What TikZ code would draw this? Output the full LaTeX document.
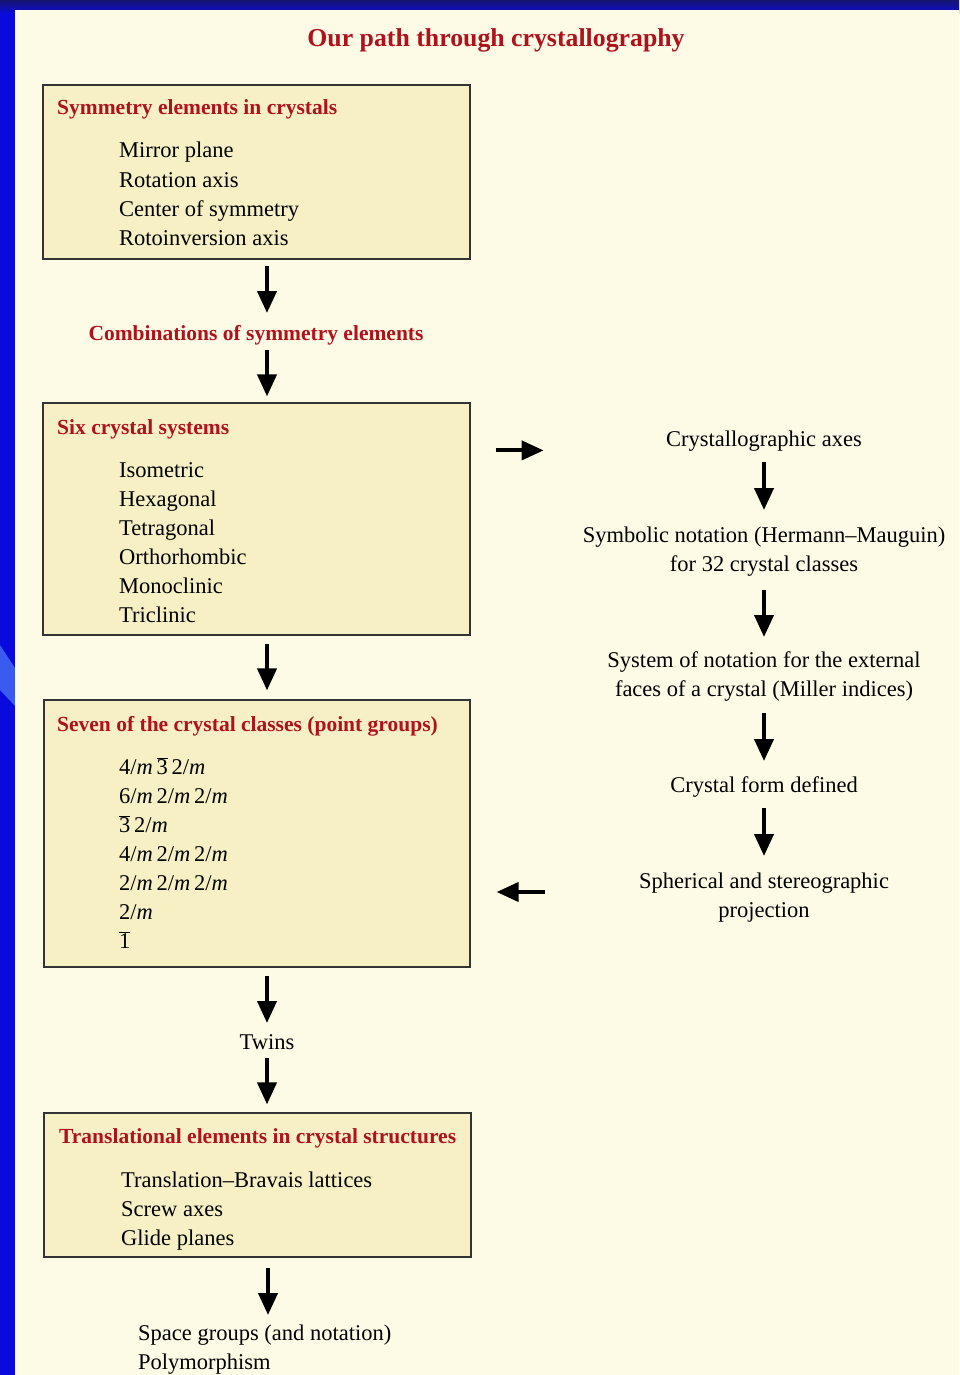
\documentclass[tikz,border=0pt]{standalone}
\usepackage{fontspec}
\setmainfont{Liberation Serif}
\usetikzlibrary{arrows.meta,calc}
\definecolor{slideblue}{HTML}{0A0ADC}
\definecolor{navy}{HTML}{161670}
\definecolor{lightblue}{HTML}{3A5AF0}
\definecolor{paper}{HTML}{FDFBE6}
\definecolor{boxfill}{HTML}{F7F0C4}
\definecolor{titlered}{HTML}{B0121C}
\begin{document}
\begin{tikzpicture}[x=1pt,y=-1pt,
  box/.style={draw=black!80, line width=1.2pt, fill=boxfill, inner sep=0pt},
  txt/.style={inner sep=0pt, anchor=base west, font=\fontsize{22.5}{29}\selectfont},
  ctxt/.style={inner sep=0pt, anchor=base, font=\fontsize{22.5}{29}\selectfont},
  hd/.style={inner sep=0pt, anchor=base west, text=titlered, font=\fontsize{21.5}{29}\selectfont\bfseries},
  arr/.style={line width=4pt, -{Triangle[width=19pt,length=22pt]}}]
\useasboundingbox (0,0) rectangle (959,1375);
% slide background
\fill[slideblue] (0,0) rectangle (959,1375);
\shade[top color=navy, bottom color=slideblue] (0,0) rectangle (959,14);
\fill[lightblue] (0,645) -- (15,668) -- (15,706) -- (0,690) -- cycle;
\fill[paper] (15,10) rectangle (959,1375);
% title
\node[inner sep=0pt, anchor=base, text=titlered, font=\fontsize{25.8}{30}\selectfont\bfseries] (title) at (496,47) {Our path through crystallography};
% box 1
\node[box, minimum width=427pt, minimum height=174pt] (b1) at (256.5,172) {};
\node[hd] (h1) at (57,115) {Symmetry elements in crystals};
\node[txt] (s1) at (119,158) {Mirror plane};
\node[txt] (s2) at (119,187) {Rotation axis};
\node[txt] (s3) at (119,216) {Center of symmetry};
\node[txt] (s4) at (119,245) {Rotoinversion axis};
% combinations
\node[inner sep=0pt, anchor=base, text=titlered, font=\fontsize{21.5}{29}\selectfont\bfseries] (combo) at (256,340) {Combinations of symmetry elements};
% box 2
\node[box, minimum width=427pt, minimum height=232pt] (b2) at (256.5,519) {};
\node[hd] (h2) at (57,434) {Six crystal systems};
\node[txt] (c1) at (119,477) {Isometric};
\node[txt] (c2) at (119,506) {Hexagonal};
\node[txt] (c3) at (119,535) {Tetragonal};
\node[txt] (c4) at (119,564) {Orthorhombic};
\node[txt] (c5) at (119,593) {Monoclinic};
\node[txt] (c6) at (119,622) {Triclinic};
% box 3
\node[box, minimum width=426pt, minimum height=267pt] (b3) at (257,833.5) {};
\node[hd] (h3) at (57,731) {Seven of the crystal classes (point groups)};
\node[txt] (p1) at (119,774) {4/\textit{m}\,$\overline{\mbox{3}}$\,2/\textit{m}};
\node[txt] (p2) at (119,803) {6/\textit{m}\,2/\textit{m}\,2/\textit{m}};
\node[txt] (p3) at (119,832) {$\overline{\mbox{3}}$\,2/\textit{m}};
\node[txt] (p4) at (119,861) {4/\textit{m}\,2/\textit{m}\,2/\textit{m}};
\node[txt] (p5) at (119,890) {2/\textit{m}\,2/\textit{m}\,2/\textit{m}};
\node[txt] (p6) at (119,919) {2/\textit{m}};
\node[txt] (p7) at (119,948) {$\overline{\mbox{1}}$};
% twins
\node[ctxt] (twins) at (267,1049) {Twins};
% box 4
\node[box, minimum width=427pt, minimum height=144pt] (b4) at (257.5,1185) {};
\node[hd] (h4) at (59,1143) {Translational elements in crystal structures};
\node[txt] (t1) at (121,1187) {Translation--Bravais lattices};
\node[txt] (t2) at (121,1216) {Screw axes};
\node[txt] (t3) at (121,1245) {Glide planes};
% bottom
\node[txt] (sg1) at (138,1340) {Space groups (and notation)};
\node[txt] (sg2) at (138,1369) {Polymorphism};
% right column
\node[ctxt] (ca) at (764,446) {Crystallographic axes};
\node[ctxt] (sn1) at (764,542) {Symbolic notation (Hermann--Mauguin)};
\node[ctxt] (sn2) at (764,571) {for 32 crystal classes};
\node[ctxt] (sy1) at (764,667) {System of notation for the external};
\node[ctxt] (sy2) at (764,696) {faces of a crystal (Miller indices)};
\node[ctxt] (cf) at (764,792) {Crystal form defined};
\node[ctxt] (sp1) at (764,888) {Spherical and stereographic};
\node[ctxt] (sp2) at (764,917) {projection};
% left column arrows
\coordinate (ax) at (267,0);
\draw[arr] ($(b1.south -| ax)+(0,6)$) -- ($(combo.base -| ax)+(0,-27)$);
\draw[arr] ($(combo.base -| ax)+(0,10)$) -- ($(b2.north -| ax)+(0,-6)$);
\draw[arr] ($(b2.south -| ax)+(0,8)$) -- ($(b3.north -| ax)+(0,-9)$);
\draw[arr] ($(b3.south -| ax)+(0,8)$) -- ($(twins.base -| ax)+(0,-26)$);
\draw[arr] ($(twins.base -| ax)+(0,9)$) -- ($(b4.north -| ax)+(0,-8)$);
\draw[arr] ($(b4.south -| ax)+(1,10)$) -- ($(sg1.base -| ax)+(1,-25)$);
% right column arrows
\draw[arr] ($(ca.base)+(0,16)$) -- ($(sn1.base)+(0,-32)$);
\draw[arr] ($(sn2.base)+(0,19)$) -- ($(sy1.base)+(0,-30)$);
\draw[arr] ($(sy2.base)+(0,17)$) -- ($(cf.base)+(0,-31)$);
\draw[arr] ($(cf.base)+(0,16)$) -- ($(sp1.base)+(0,-32)$);
% horizontal arrows
\draw[arr] ($(b2.north east)+(25,48)$) -- ($(b2.north east)+(73,48)$);
\draw[arr] ($(b3.east)+(74,58.5)$) -- ($(b3.east)+(26,58.5)$);
\end{tikzpicture}
\end{document}
